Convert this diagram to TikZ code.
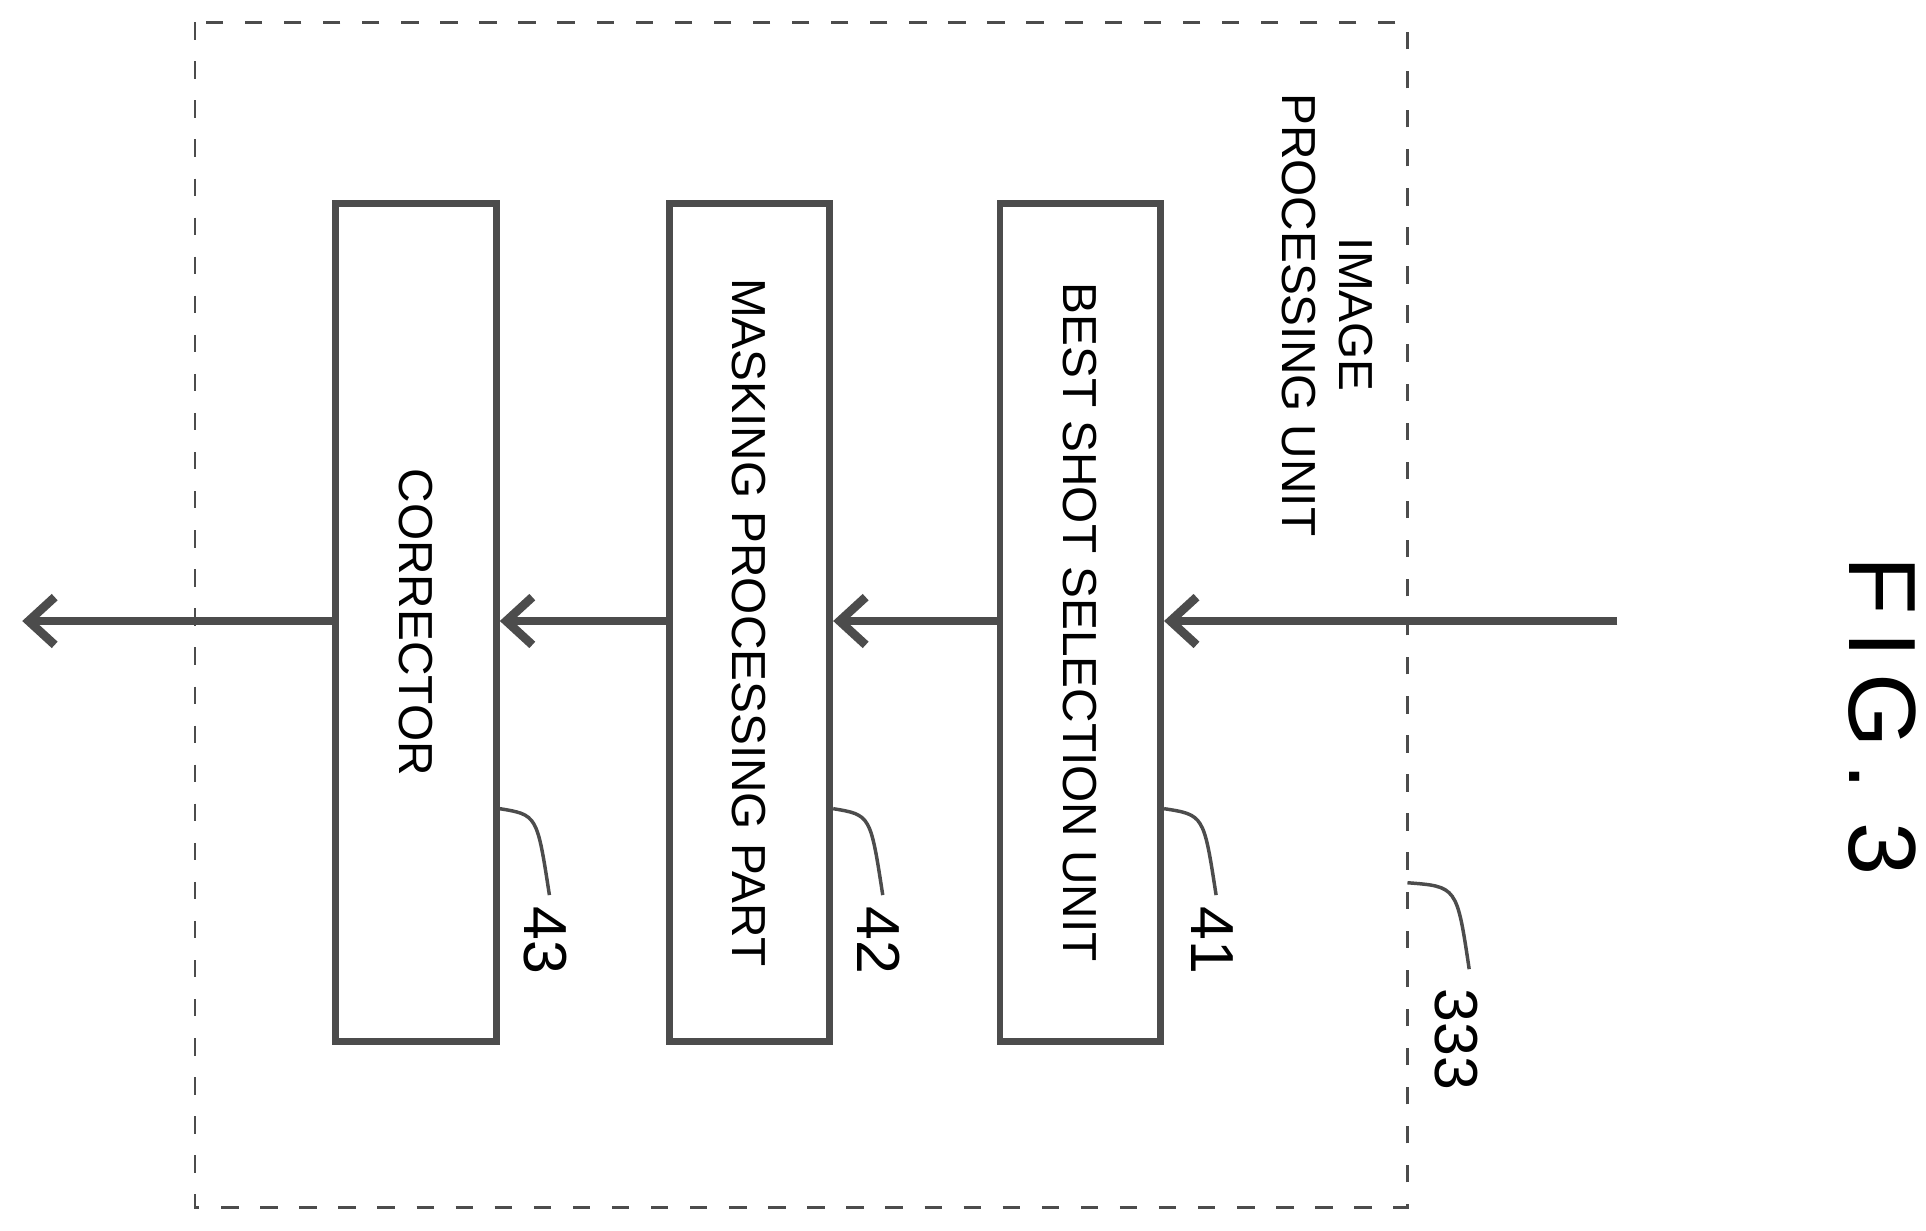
\documentclass[tikz,border=0pt]{standalone}
\usepackage{fontspec}
\setmainfont{Liberation Sans}
\usetikzlibrary{arrows.meta,positioning,calc}
\begin{document}
\begin{tikzpicture}[x=0.01cm,y=-0.01cm,
    part/.style={rectangle, draw=black!70, line width=1.6pt, minimum width=1.3cm, minimum height=6.78cm, inner sep=0pt},
    vtext/.style={rotate=-90, font=\fontsize{11}{13}\selectfont, align=center},
    flow/.style={-{Straight Barb[length=6pt,width=11pt]}, line width=2pt, black!70},
    lead/.style={black!70, line width=0.8pt},
    ref/.style={rotate=-90, font=\fontsize{14}{16}\selectfont}
]
    \useasboundingbox (0,0) rectangle (1560,997);
    % unit boundary
    \draw[dashed, black!70, line width=0.6pt, dash pattern=on 4pt off 5pt] (158,18) rectangle (1140,978);
    \node[vtext] (title) at (1075,255) {IMAGE\\PROCESSING UNIT};

    % parts
    \node[part] (sel) at (875,504) {};
    \node[part] (mask) at (607,504) {};
    \node[part] (corr) at (337,504) {};
    \node[vtext] at (sel) {BEST SHOT SELECTION UNIT};
    \node[vtext] at (mask) {MASKING PROCESSING PART};
    \node[vtext] at (corr) {CORRECTOR};

    % signal path
    \coordinate (in) at (1310,503);
    \coordinate (out) at (18,503);
    \draw[flow] (in) -- (sel.east |- in);
    \draw[flow] (sel.west |- in) -- (mask.east |- in);
    \draw[flow] (mask.west |- in) -- (corr.east |- in);
    \draw[flow] (corr.west |- in) -- (out);

    % reference numerals
    \node[ref] (n41) at (982,762) {41};
    \node[ref] (n42) at (712,762) {42};
    \node[ref] (n43) at (442,762) {43};
    \node[ref] (n333) at (1180,842) {333};
    \coordinate (e41) at (985,725);
    \coordinate (e42) at (715,725);
    \coordinate (e43) at (445,725);
    \coordinate (e333) at (1190,785);
    \draw[lead] (sel.east |- 0,655) .. controls (975,660) .. (e41);
    \draw[lead] (mask.east |- 0,655) .. controls (705,660) .. (e42);
    \draw[lead] (corr.east |- 0,655) .. controls (435,660) .. (e43);
    \draw[lead] (1140,715) .. controls (1180,718) .. (e333);

    \node[rotate=-90, font=\fontsize{22}{24}\selectfont] (fig) at (1525,580) {F\,I\,G\,.\,\,3};
\end{tikzpicture}
\end{document}
